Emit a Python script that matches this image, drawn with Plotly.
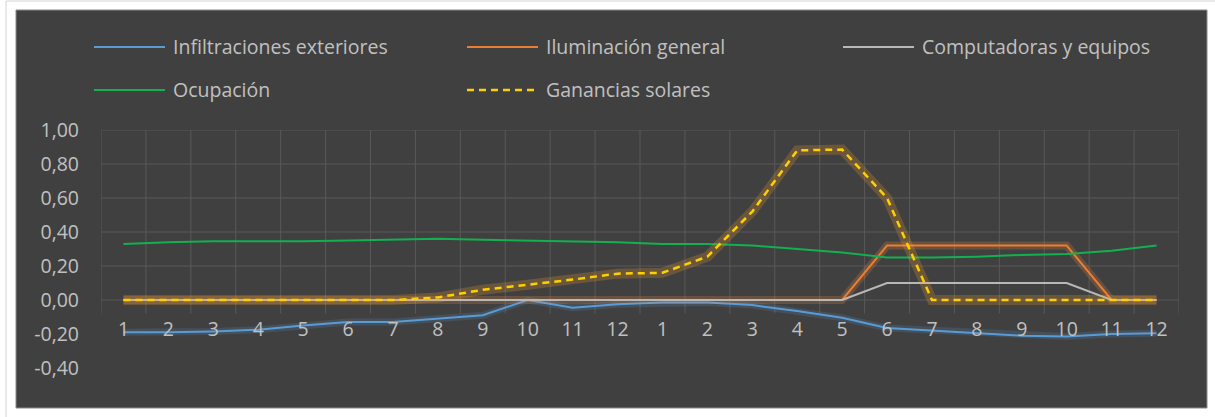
import plotly.graph_objects as go

# Hour labels for two consecutive 12-hour blocks
hour_labels = ["1", "2", "3", "4", "5", "6", "7", "8", "9", "10", "11", "12",
               "1", "2", "3", "4", "5", "6", "7", "8", "9", "10", "11", "12"]

series_names = ["Infiltraciones exteriores", "Iluminación general",
                "Computadoras y equipos", "Ocupación", "Ganancias solares"]

infiltraciones = [-0.19, -0.19, -0.185, -0.175, -0.15, -0.13, -0.13, -0.11, -0.09, 0.00, -0.045, -0.025,
                  -0.015, -0.015, -0.03, -0.065, -0.105, -0.165, -0.18, -0.195, -0.21, -0.215, -0.20, -0.195]
iluminacion = [0.00, 0.00, 0.00, 0.00, 0.00, 0.00, 0.00, 0.00, 0.00, 0.00, 0.00, 0.00,
               0.00, 0.00, 0.00, 0.00, 0.00, 0.32, 0.32, 0.32, 0.32, 0.32, 0.00, 0.00]
computadoras = [0.00, 0.00, 0.00, 0.00, 0.00, 0.00, 0.00, 0.00, 0.00, 0.00, 0.00, 0.00,
                0.00, 0.00, 0.00, 0.00, 0.00, 0.10, 0.10, 0.10, 0.10, 0.10, 0.00, 0.00]
ocupacion = [0.33, 0.34, 0.345, 0.345, 0.345, 0.35, 0.355, 0.36, 0.355, 0.35, 0.345, 0.34,
             0.33, 0.33, 0.32, 0.30, 0.28, 0.25, 0.25, 0.255, 0.265, 0.27, 0.29, 0.32]
ganancias = [0.00, 0.00, 0.00, 0.00, 0.00, 0.00, 0.00, 0.015, 0.06, 0.09, 0.12, 0.155,
             0.16, 0.255, 0.52, 0.88, 0.885, 0.60, 0.00, 0.00, 0.00, 0.00, 0.00, 0.00]

y_ticks = [1.0, 0.8, 0.6, 0.4, 0.2, 0.0, -0.2, -0.4]
y_tick_text = ["1,00", "0,80", "0,60", "0,40", "0,20", "0,00", "-0,20", "-0,40"]
grid_levels = [0.0, 0.2, 0.4, 0.6, 0.8, 1.0]

W, H = 1215, 417
ML, MR, MT, MB = 101, 36, 130, 49
PW, PH = W - ML - MR, H - MT - MB

BG = "#404040"
GRID = "#585858"
TEXT = "#c0c0c0"
FONT = "Open Sans"

colors = {
    "infil": "#5b9bd5",
    "ilum": "#ed7d31",
    "comp": "#b8b8b8",
    "ocup": "#12b050",
    "gan": "#ffd000",
}


def px_x(px):
    return (px - ML) / PW


def px_y(py):
    return (H - MB - py) / PH


x = list(range(len(hour_labels)))

fig = go.Figure()

# blue with soft glow
fig.add_trace(go.Scatter(x=x, y=infiltraciones, mode="lines", hoverinfo="skip",
                         line=dict(color="rgba(91,155,213,0.18)", width=7), showlegend=False))
fig.add_trace(go.Scatter(x=x, y=infiltraciones, mode="lines", name=series_names[0],
                         line=dict(color=colors["infil"], width=2), showlegend=False))
# orange with glow
fig.add_trace(go.Scatter(x=x, y=iluminacion, mode="lines", hoverinfo="skip",
                         line=dict(color="rgba(245,140,60,0.22)", width=8), showlegend=False))
fig.add_trace(go.Scatter(x=x, y=iluminacion, mode="lines", name=series_names[1],
                         line=dict(color=colors["ilum"], width=2), showlegend=False))
fig.add_trace(go.Scatter(x=x, y=computadoras, mode="lines", name=series_names[2],
                         line=dict(color=colors["comp"], width=2), showlegend=False))
fig.add_trace(go.Scatter(x=x, y=ocupacion, mode="lines", name=series_names[3],
                         line=dict(color=colors["ocup"], width=2), showlegend=False))
# dashed gold with orange halo
fig.add_trace(go.Scatter(x=x, y=ganancias, mode="lines", hoverinfo="skip",
                         line=dict(color="rgba(255,170,40,0.22)", width=10), showlegend=False))
fig.add_trace(go.Scatter(x=x, y=ganancias, mode="lines", name=series_names[4],
                         line=dict(color=colors["gan"], width=2.5, dash="7px,5px"), showlegend=False))

shapes = []
# outer frame and dark chart area
shapes.append(dict(type="rect", xref="paper", yref="paper",
                   x0=px_x(6), x1=px_x(1240), y0=px_y(440), y1=px_y(1),
                   line=dict(color="#d4d4d4", width=1), fillcolor="white", layer="below"))
shapes.append(dict(type="rect", xref="paper", yref="paper",
                   x0=px_x(16), x1=px_x(1207), y0=px_y(408), y1=px_y(10),
                   line=dict(color="#8a8a8a", width=1), fillcolor=BG, layer="below"))
# horizontal gridlines
for lv in grid_levels:
    shapes.append(dict(type="line", xref="x", yref="y", x0=-0.5, x1=len(x) - 0.5, y0=lv, y1=lv,
                       line=dict(color=GRID, width=1), layer="below"))
# vertical gridlines on category boundaries
for i in range(len(x) + 1):
    shapes.append(dict(type="line", xref="x", yref="y", x0=i - 0.5, x1=i - 0.5, y0=-0.08, y1=1.0,
                       line=dict(color=GRID, width=1), layer="below"))

annotations = []
# legend: three columns, two rows
legend_items = [
    (series_names[0], colors["infil"], "solid", 94, 47),
    (series_names[1], colors["ilum"], "solid", 467, 47),
    (series_names[2], colors["comp"], "solid", 843, 47),
    (series_names[3], colors["ocup"], "solid", 94, 90),
    (series_names[4], colors["gan"], "dash", 467, 90),
]
for name, col, dash, lx, ly in legend_items:
    shapes.append(dict(type="line", xref="paper", yref="paper",
                       x0=px_x(lx), x1=px_x(lx + 71), y0=px_y(ly), y1=px_y(ly),
                       line=dict(color=col, width=2.5 if dash == "dash" else 2,
                                 dash="7px,5px" if dash == "dash" else "solid")))
    annotations.append(dict(xref="paper", yref="paper", x=px_x(lx + 77), y=px_y(ly),
                            text=name, showarrow=False, xanchor="left", yanchor="middle",
                            font=dict(family=FONT, size=19.5, color=TEXT)))

fig.update_layout(
    width=W, height=H,
    margin=dict(l=ML, r=MR, t=MT, b=MB),
    paper_bgcolor="white",
    plot_bgcolor="rgba(0,0,0,0)",
    font=dict(family=FONT, size=19, color=TEXT),
    shapes=shapes,
    annotations=annotations,
    showlegend=False,
    xaxis=dict(
        type="linear", range=[-0.5, len(x) - 0.5],
        tickvals=x, ticktext=hour_labels,
        anchor="free", position=0.4 / 1.4,
        showgrid=False, zeroline=False, showline=False, ticks="",
        ticklabelstandoff=15,
        tickfont=dict(family=FONT, size=19.5, color=TEXT),
    ),
    yaxis=dict(
        range=[-0.4, 1.0],
        tickvals=y_ticks, ticktext=y_tick_text,
        showgrid=False, zeroline=False, showline=False, ticks="",
        ticklabelstandoff=21,
        tickfont=dict(family=FONT, size=19.5, color=TEXT),
    ),
)

fig.write_html("out.html")
